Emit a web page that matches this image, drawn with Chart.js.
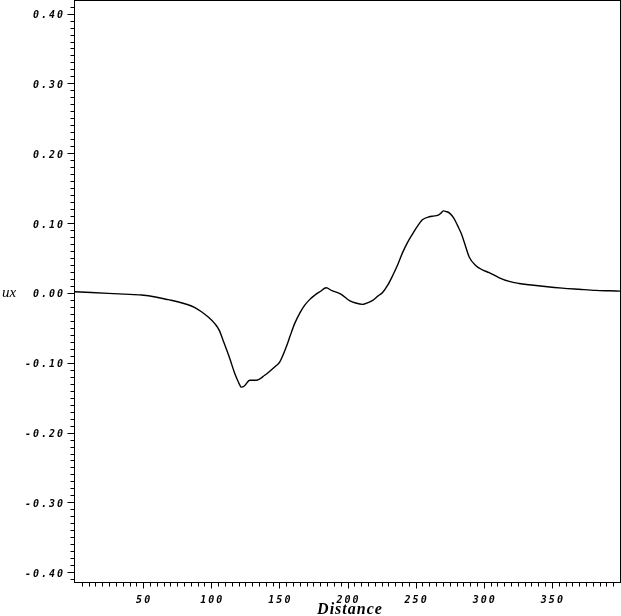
<!DOCTYPE html>
<html><head><meta charset="utf-8">
<script src="https://cdn.jsdelivr.net/npm/chart.js@4.4.1/dist/chart.umd.min.js"></script>
<style>html,body{margin:0;padding:0;background:#fff}#wrap{width:621px;height:616px;position:relative}</style>
</head><body><div id="wrap"><canvas id="c" width="621" height="616"></canvas></div>
<script>
const distance = [0, 12, 24.4, 36, 48.8, 60, 68.4, 76, 83, 88, 92.8, 98, 102.6, 106, 108.7, 111, 113.6, 117.2, 120, 122.1, 124.5, 128.2, 133.1, 139.2, 146.5, 150.2, 155.1, 158, 161.2, 165, 168.5, 172, 175.8, 180, 184.4, 188.2, 195.4, 201.5, 206, 211.2, 215, 218.5, 222, 225.9, 229.5, 233.2, 237, 240.5, 244, 247.8, 251.5, 255.2, 260, 263, 266.2, 268.5, 270.3, 272.5, 274.7, 278, 280.8, 283.5, 285.7, 289.4, 294.3, 299, 304, 311, 318.7, 326, 333.3, 345, 357.7, 370, 382.2, 392, 400];
const ux = [0.0017, 0.0005, -0.0007, -0.0018, -0.003, -0.0062, -0.0097, -0.013, -0.017, -0.021, -0.027, -0.035, -0.044, -0.054, -0.068, -0.080, -0.094, -0.115, -0.128, -0.135, -0.133, -0.125, -0.125, -0.118, -0.106, -0.099, -0.077, -0.061, -0.044, -0.029, -0.018, -0.010, -0.0036, 0.002, 0.0074, 0.0036, -0.002, -0.011, -0.0145, -0.0164, -0.014, -0.0107, -0.005, 0.001, 0.011, 0.025, 0.041, 0.058, 0.072, 0.0846, 0.096, 0.105, 0.109, 0.110, 0.111, 0.114, 0.1174, 0.1165, 0.1146, 0.107, 0.0964, 0.085, 0.0726, 0.051, 0.039, 0.033, 0.029, 0.022, 0.0164, 0.0135, 0.0117, 0.0092, 0.0069, 0.0052, 0.0036, 0.003, 0.0026];
const yTickValues = [0.40, 0.30, 0.20, 0.10, 0.00, -0.10, -0.20, -0.30, -0.40];
const yTickLabels = ['0.40', '0.30', '0.20', '0.10', '0.00', '-0.10', '-0.20', '-0.30', '-0.40'];
const xTickValues = [50, 100, 150, 200, 250, 300, 350];
const xTickLabels = ['50', '100', '150', '200', '250', '300', '350'];
const xTitle = 'Distance';
const yTitle = 'ux';

const axisPlugin = {
  id: 'sasAxes',
  afterDraw(chart) {
    const ctx = chart.ctx;
    const a = chart.chartArea;
    const xs = chart.scales.x, ys = chart.scales.y;
    ctx.save();
    ctx.strokeStyle = '#000';
    ctx.lineWidth = 1;
    ctx.strokeRect(Math.round(a.left) - 0.5, Math.round(a.top) - 0.5, Math.round(a.right - a.left) + 1, Math.round(a.bottom - a.top) + 1);
    const L = Math.round(a.left) - 0.5, B = Math.round(a.bottom) + 0.5;
    ctx.beginPath();
    // y minor ticks every 0.01
    for (let i = -41; i <= 41; i++) {
      const yy = Math.round(ys.getPixelForValue(i / 100)) + 0.5;
      const major = (i % 10 === 0);
      ctx.moveTo(L, yy); ctx.lineTo(L - (major ? 7 : 4), yy);
    }
    // x ticks every 5
    for (let v = 5; v < 400; v += 5) {
      const xx = Math.round(xs.getPixelForValue(v)) + 0.5;
      const major = (v % 50 === 0);
      ctx.moveTo(xx, B); ctx.lineTo(xx, B + (major ? 6 : 4));
    }
    ctx.stroke();
    // tick labels
    ctx.fillStyle = '#000';
    ctx.font = 'italic bold 10px "DejaVu Sans Mono"';
    ctx.letterSpacing = '2px';
    ctx.textBaseline = 'middle';
    ctx.textAlign = 'left';
    yTickValues.forEach((v, i) => {
      const t = yTickLabels[i];
      const w = ctx.measureText(t).width;
      ctx.fillText(t, 65 - w, ys.getPixelForValue(v) + 2);
    });
    xTickValues.forEach((v, i) => {
      const t = xTickLabels[i];
      const w = ctx.measureText(t).width;
      ctx.fillText(t, xs.getPixelForValue(v) - (w - 2) / 2, 600);
    });
    // titles
    ctx.letterSpacing = '0px';
    ctx.textBaseline = 'alphabetic';
    ctx.font = 'italic 15px "Liberation Serif"';
    ctx.fillText(yTitle, 2, 297);
    ctx.font = 'italic bold 16px "Liberation Serif"';
    ctx.letterSpacing = '1px';
    const tw = ctx.measureText(xTitle).width;
    ctx.fillText(xTitle, 350 - tw / 2, 614);
    ctx.restore();
  }
};

new Chart(document.getElementById('c'), {
  type: 'line',
  data: {
    datasets: [{
      data: distance.map((d, i) => ({ x: d, y: ux[i] })),
      borderColor: '#000',
      borderWidth: 1.4,
      pointRadius: 0,
      fill: false,
      cubicInterpolationMode: 'monotone'
    }]
  },
  options: {
    responsive: false,
    devicePixelRatio: 1,
    animation: false,
    layout: { padding: { left: 75, right: 1, top: 1, bottom: 34 } },
    plugins: { legend: { display: false }, tooltip: { enabled: false } },
    scales: {
      x: { type: 'linear', min: 0, max: 400, display: false },
      y: { type: 'linear', min: -0.414, max: 0.418, display: false }
    }
  },
  plugins: [axisPlugin]
});
</script>
</body></html>
